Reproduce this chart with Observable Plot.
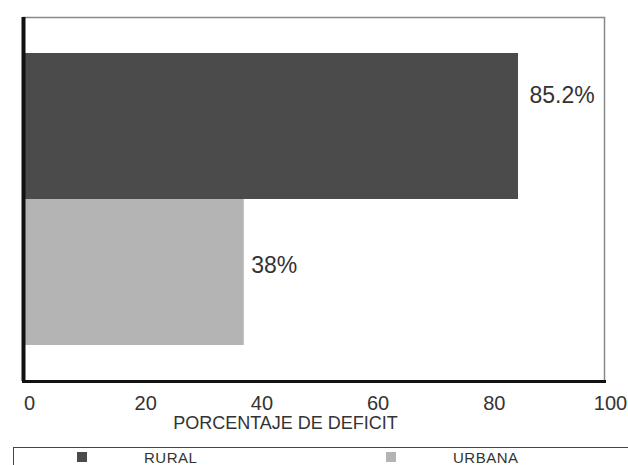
<!DOCTYPE html>
<html><head><meta charset="utf-8">
<script src="https://cdn.jsdelivr.net/npm/d3@7"></script>
<script src="https://cdn.jsdelivr.net/npm/@observablehq/plot@0.6"></script>
<style>
body{margin:0;background:#fff;font-family:"Liberation Sans",Arial,sans-serif;overflow:hidden;}
#chart svg{display:block;}
#legend{position:relative;width:615px;height:18px;margin-left:13px;border-top:1.5px solid #444;border-left:1.5px solid #444;box-sizing:border-box;font-size:15px;line-height:15px;color:#333;}
#legend span{position:absolute;top:2px;letter-spacing:0.5px;}
#legend i{position:absolute;top:4px;width:10px;height:10px;display:block;}
</style></head>
<body>
<div id="chart"></div>
<div id="legend"></div>
<script>
const categories = ["RURAL", "URBANA"];
const values = [85.2, 38];
const labels = ["85.2%", "38%"];
const colors = ["#4b4b4b", "#b4b4b4"];
const xTicks = [0, 20, 40, 60, 80, 100];
const xLabel = "PORCENTAJE DE DEFICIT";

const data = categories.map((c, i) => ({cat: c, value: values[i], label: labels[i]}));

const plot = Plot.plot({
  width: 628,
  height: 447,
  marginLeft: 23,
  marginRight: 24,
  marginTop: 17,
  marginBottom: 66,
  style: {fontFamily: "Liberation Sans, Arial, sans-serif", background: "#fff"},
  x: {domain: [0, 100], ticks: xTicks},
  y: {domain: categories, paddingInner: 0, paddingOuter: 0.24},
  color: {domain: categories, range: colors},
  marks: [
    Plot.frame({stroke: "#888", strokeWidth: 1.5}),
    Plot.barX(data, {x: "value", y: "cat", fill: "cat", inset: 0}),
    Plot.text(data.filter(d => d.cat === "RURAL"), {x: "value", y: "cat", text: "label", dx: 11, dy: -31, textAnchor: "start", fontSize: 23, fill: "#333"}),
    Plot.text(data.filter(d => d.cat === "URBANA"), {x: "value", y: "cat", text: "label", dx: 7, dy: -7, textAnchor: "start", fontSize: 23, fill: "#333"}),
    Plot.ruleX([0], {stroke: "#111", strokeWidth: 4}),
    Plot.frame({anchor: "bottom", stroke: "#111", strokeWidth: 3}),
    Plot.axisX({ticks: xTicks, tickSize: 0, tickPadding: 14, dx: 6, fontSize: 20, fill: "#333", label: null}),
    Plot.text([xLabel], {text: d => d, frameAnchor: "bottom-left", dx: 262, dy: 47, textAnchor: "middle", fontSize: 18, fill: "#333"}),
    Plot.axisY({ticks: [], tickSize: 0, label: null})
  ]
});
document.getElementById("chart").appendChild(plot);

const lg = document.getElementById("legend");
const pos = [[63, 130], [372, 439]];
categories.forEach((c, i) => {
  const s = document.createElement("i");
  s.style.left = pos[i][0] + "px";
  s.style.background = colors[i];
  lg.appendChild(s);
  const t = document.createElement("span");
  t.style.left = pos[i][1] + "px";
  t.textContent = c;
  lg.appendChild(t);
});
</script>
</body></html>
